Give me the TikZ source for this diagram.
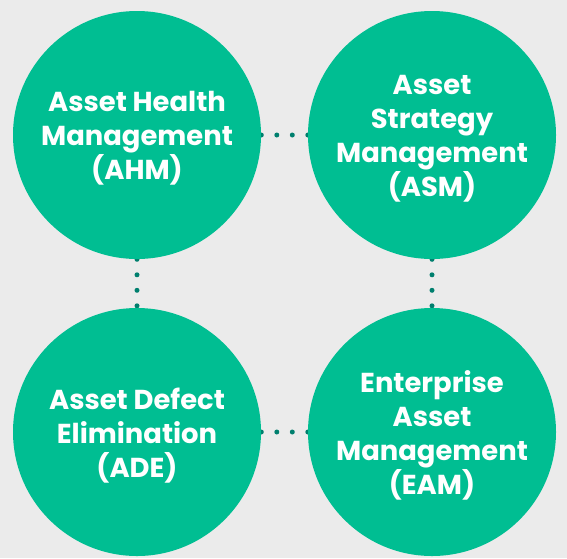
\documentclass[tikz,border=0pt]{standalone}
\usepackage{fontspec}
\setmainfont{Poppins}
\usepackage{tikz}
\usetikzlibrary{positioning}
\definecolor{bgGrey}{HTML}{EBEBEB}
\definecolor{discGreen}{HTML}{00BE92}
\definecolor{dotTeal}{HTML}{007F6E}
\pgfdeclarelayer{canvas}
\pgfdeclarelayer{links}
\pgfsetlayers{canvas,links,main}

\begin{document}
\begin{tikzpicture}[x=1pt,y=-1pt,
    every text node part/.style={align=center},
    disc/.style={circle,fill=discGreen,minimum size=248pt,inner sep=0pt,
      text=white,font=\bfseries\fontsize{27.4}{34}\selectfont},
    lift/.style={yshift=-3.5pt},
    dots/.style={dotTeal,line width=5pt,line cap=round,
      dash pattern=on 0pt off 15.5pt,dash phase=15.2pt}]
      \begin{pgfonlayer}{canvas}
        \fill[bgGrey] (0,0) rectangle (567,558);
      \end{pgfonlayer}
      \useasboundingbox (0,0) rectangle (567,558);

      \node[disc] (HealthN) at (137,135) {};
      \node[disc] (StratN)  at (432,135) {};
      \node[disc] (DefectN) at (137,432) {};
      \node[disc] (EntN)    at (432,432) {};

      \node[disc,fill=none,lift] (HealthT) at (HealthN) {Asset Health\\Management\\(AHM)};
      \node[disc,fill=none,lift] (StratT)  at (StratN)  {Asset\\Strategy\\Management\\(ASM)};
      \node[disc,fill=none,lift] (DefectT) at (DefectN) {Asset Defect\\Elimination\\(ADE)};
      \node[disc,fill=none,lift] (EntT)    at (EntN)    {Enterprise\\Asset\\Management\\(EAM)};

      \begin{pgfonlayer}{links}
        \draw [dots] (HealthN.center) -- (StratN.center);
        \draw [dots] (HealthN.center) -- (DefectN.center);
        \draw [dots] (DefectN.center) -- (EntN.center);
        \draw [dots] (StratN.center)  -- (EntN.center);
      \end{pgfonlayer}
    \end{tikzpicture}
\end{document}
